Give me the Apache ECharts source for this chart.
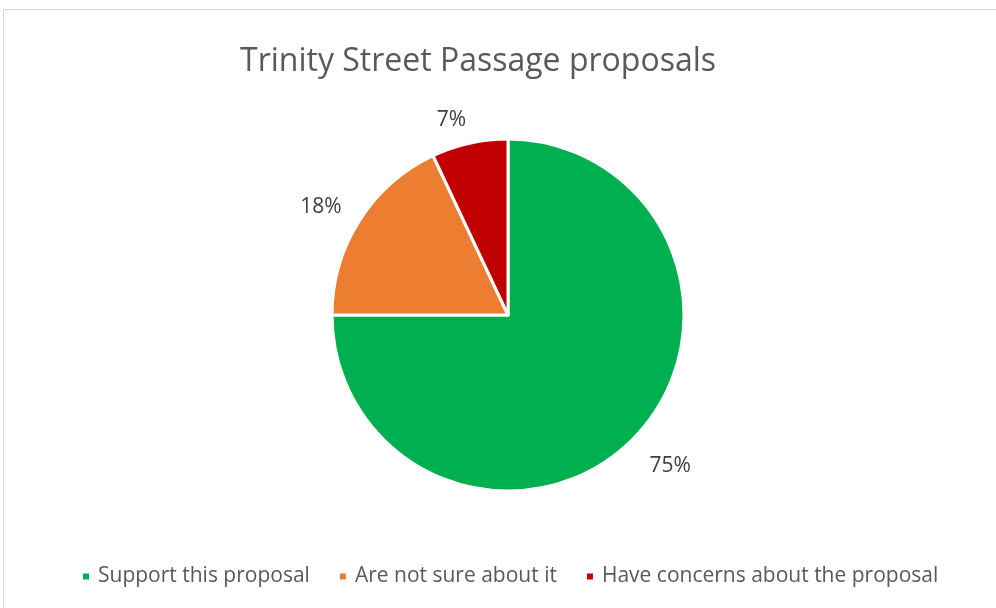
<!DOCTYPE html>
<html><head><meta charset="utf-8">
<script src="https://cdn.jsdelivr.net/npm/echarts@6/dist/echarts.min.js"></script>
<style>html,body{margin:0;padding:0;background:#fff}#c{width:996px;height:608px}</style>
</head><body><div id="c"></div>
<script>
const categories = ['Support this proposal', 'Are not sure about it', 'Have concerns about the proposal'];
const values = [75, 18, 7];
const colors = ['#00B050', '#ED7D31', '#C00000'];
const titleText = 'Trinity Street Passage proposals';

const FONT = '"Open Sans", sans-serif';
const labelNudges = [[8, -3], [-3, 9], [-9, 18]];
const data = categories.map((n, i) => ({ name: n, value: values[i], itemStyle: { color: colors[i] } }));
const chart = echarts.init(document.getElementById('c'));
chart.setOption({
  animation: false,
  backgroundColor: '#fff',
  graphic: [{ type: 'rect', shape: { x: 3.5, y: 9.5, width: 1000, height: 610 }, style: { fill: 'none', stroke: '#d9d9d9', lineWidth: 1 }, silent: true }],
  title: { text: titleText, left: 473, top: 41, textAlign: 'center',
    textStyle: { fontFamily: FONT, fontSize: 32, fontWeight: 'normal', color: '#595959' } },
  legend: { top: 561, left: 76, itemWidth: 8, itemHeight: 8, itemGap: 28, icon: 'rect',
    textStyle: { fontFamily: FONT, fontSize: 21, color: '#595959', padding: [0, 0, 0, 3] }, data: categories },
  series: [
    { type: 'pie', center: [508, 315], radius: [0, 176], startAngle: 90, clockwise: true,
      data: data, label: { show: false }, labelLine: { show: false },
      itemStyle: { borderColor: '#fff', borderWidth: 3 }, emphasis: { disabled: true } },
    { type: 'pie', center: [508, 315], radius: [200, 230], startAngle: 90, clockwise: true, silent: true,
      legendHoverLink: false,
      data: categories.map((n, i) => ({ name: n, value: values[i], label: { offset: labelNudges[i] } })),
      itemStyle: { color: 'rgba(0,0,0,0)' },
      label: { show: true, position: 'inside', formatter: p => p.value + '%', fontFamily: FONT, fontSize: 21, color: '#404040' },
      labelLine: { show: false }, emphasis: { disabled: true }, tooltip: { show: false } }
  ]
});
</script></body></html>
